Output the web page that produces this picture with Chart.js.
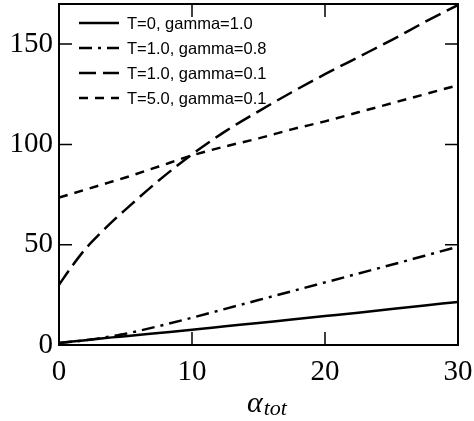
<!DOCTYPE html>
<html>
<head>
<meta charset="utf-8">
<title>alpha_tot</title>
<script src="https://cdn.jsdelivr.net/npm/chart.js@4/dist/chart.umd.min.js"></script>
<style>
    html, body { margin: 0; padding: 0; background: #fff; }
    #wrap { width: 474px; height: 421px; }
</style>
</head>
<body>
<div id="wrap"><canvas id="alphaChart" width="474" height="421"></canvas></div>
<script>
// sample points along alpha_tot
const alpha = [0, 1, 2, 3, 4, 5, 7.5, 10, 12.5, 15, 17.5, 20, 22.5, 25, 27.5, 30];

const seriesLabels = ['T=0, gamma=1.0', 'T=1.0, gamma=0.8', 'T=1.0, gamma=0.1', 'T=5.0, gamma=0.1'];
const t0g10 = [1, 1.7, 2.4, 3.1, 3.8, 4.4, 6, 7.6, 9.3, 11, 12.7, 14.4, 16.1, 17.9, 19.7, 21.5];
const t1g08 = [1, 1.6, 2.4, 3.3, 4.4, 5.6, 9.4, 13.6, 18, 22.4, 26.8, 31.2, 35.6, 40, 44.5, 49];
const t1g01 = [30, 39.5, 48, 55, 61.5, 67.5, 82, 95, 106.5, 116.5, 126, 135, 143.5, 152, 161, 169.5];
const t5g01 = [73.5, 75.5, 77.5, 79.5, 81.5, 83.5, 89, 94.5, 99, 103, 107.5, 111.5, 116, 120.5, 125, 129.5];

const xTicks = [0, 10, 20, 30];
const yTicks = [0, 50, 100, 150];

const seriesValues = [t0g10, t1g08, t1g01, t5g01];
const dashes = [[], [13, 6, 3, 6], [17, 7], [9, 7]];
const widths = [2.5, 2.5, 2.5, 2.5];

const serif = "'Liberation Serif', 'Times New Roman', serif";
const sans = "'Liberation Sans', Arial, sans-serif";

// box around the plot with inward tick marks on all four sides
const framePlugin = {
    id: 'frame',
    afterDraw(chart) {
        const ctx = chart.ctx;
        const area = chart.chartArea;
        const xs = chart.scales.x;
        const ys = chart.scales.y;
        const len = 13;
        ctx.save();
        ctx.strokeStyle = '#000';
        ctx.lineWidth = 2;
        ctx.strokeRect(area.left, area.top, area.right - area.left, area.bottom - area.top);
        ctx.lineWidth = 1.5;
        ctx.beginPath();
        xTicks.forEach(v => {
            if (v === xs.min || v === xs.max) return;
            const px = xs.getPixelForValue(v);
            ctx.moveTo(px, area.bottom);
            ctx.lineTo(px, area.bottom - len);
            ctx.moveTo(px, area.top);
            ctx.lineTo(px, area.top + len);
        });
        yTicks.forEach(v => {
            if (v === ys.min || v === ys.max) return;
            const py = ys.getPixelForValue(v);
            ctx.moveTo(area.left, py);
            ctx.lineTo(area.left + len, py);
            ctx.moveTo(area.right, py);
            ctx.lineTo(area.right - len, py);
        });
        ctx.stroke();
        ctx.restore();
    }
};

// legend drawn inside the plot, top left
const innerLegend = {
    id: 'innerLegend',
    afterDatasetsDraw(chart) {
        const ctx = chart.ctx;
        const area = chart.chartArea;
        const x0 = area.left + 20;
        const lineLen = 40;
        ctx.save();
        ctx.font = '16.5px ' + sans;
        ctx.textBaseline = 'middle';
        ctx.fillStyle = '#000';
        chart.data.datasets.forEach((ds, i) => {
            const y = area.top + 19 + i * 25;
            ctx.strokeStyle = '#000';
            ctx.lineWidth = ds.borderWidth;
            ctx.setLineDash(ds.borderDash || []);
            ctx.beginPath();
            ctx.moveTo(x0, y);
            ctx.lineTo(x0 + lineLen, y);
            ctx.stroke();
            ctx.fillText(ds.label, x0 + lineLen + 8, y + 1);
        });
        ctx.restore();
    }
};

// x axis title: italic alpha with subscript "tot"
const axisTitle = {
    id: 'axisTitle',
    afterDraw(chart) {
        const ctx = chart.ctx;
        const area = chart.chartArea;
        ctx.save();
        ctx.fillStyle = '#000';
        ctx.textBaseline = 'alphabetic';
        ctx.font = 'italic 30px ' + serif;
        const wA = ctx.measureText('α').width;
        ctx.font = 'italic 22px ' + serif;
        const wSub = ctx.measureText('tot').width;
        const cx = (area.left + area.right) / 2 + 8;
        const left = cx - (wA + wSub) / 2;
        const base = area.bottom + 67;
        ctx.font = 'italic 30px ' + serif;
        ctx.fillText('α', left, base);
        ctx.font = 'italic 22px ' + serif;
        ctx.fillText('tot', left + wA + 1, base + 3);
        ctx.restore();
    }
};

function createChart() {
    const canvas = document.getElementById('alphaChart');
    const ctx = canvas.getContext('2d');

    const datasets = seriesValues.map((vals, i) => ({
        label: seriesLabels[i],
        data: vals.map((v, k) => ({ x: alpha[k], y: v })),
        borderColor: '#000',
        backgroundColor: '#000',
        borderWidth: widths[i],
        borderDash: dashes[i],
        borderCapStyle: 'butt',
        pointRadius: 0,
        fill: false,
        cubicInterpolationMode: 'monotone'
    }));

    return new Chart(ctx, {
        type: 'line',
        data: { datasets: datasets },
        options: {
            responsive: false,
            animation: false,
            layout: { padding: { top: 4, right: 16, left: 0, bottom: 0 } },
            plugins: {
                legend: { display: false },
                tooltip: { enabled: false }
            },
            scales: {
                x: {
                    type: 'linear',
                    min: 0,
                    max: 30,
                    // fixed band for labels + title, no extra room for end labels
                    afterFit: s => {
                        s.height = 76;
                        s.paddingLeft = 0;
                        s.paddingRight = 0;
                    },
                    afterBuildTicks: s => { s.ticks = xTicks.map(v => ({ value: v })); },
                    grid: { display: false, drawTicks: false },
                    border: { display: false },
                    ticks: {
                        color: '#000',
                        padding: 10,
                        font: { family: serif, size: 29 }
                    }
                },
                y: {
                    type: 'linear',
                    min: 0,
                    max: 170,
                    afterFit: s => {
                        s.width = 59;
                        s.paddingTop = 0;
                        s.paddingBottom = 0;
                    },
                    afterBuildTicks: s => { s.ticks = yTicks.map(v => ({ value: v })); },
                    grid: { display: false, drawTicks: false },
                    border: { display: false },
                    ticks: {
                        color: '#000',
                        padding: 6,
                        font: { family: serif, size: 29 }
                    }
                }
            }
        },
        plugins: [framePlugin, innerLegend, axisTitle]
    });
}

createChart();
</script>
</body>
</html>
